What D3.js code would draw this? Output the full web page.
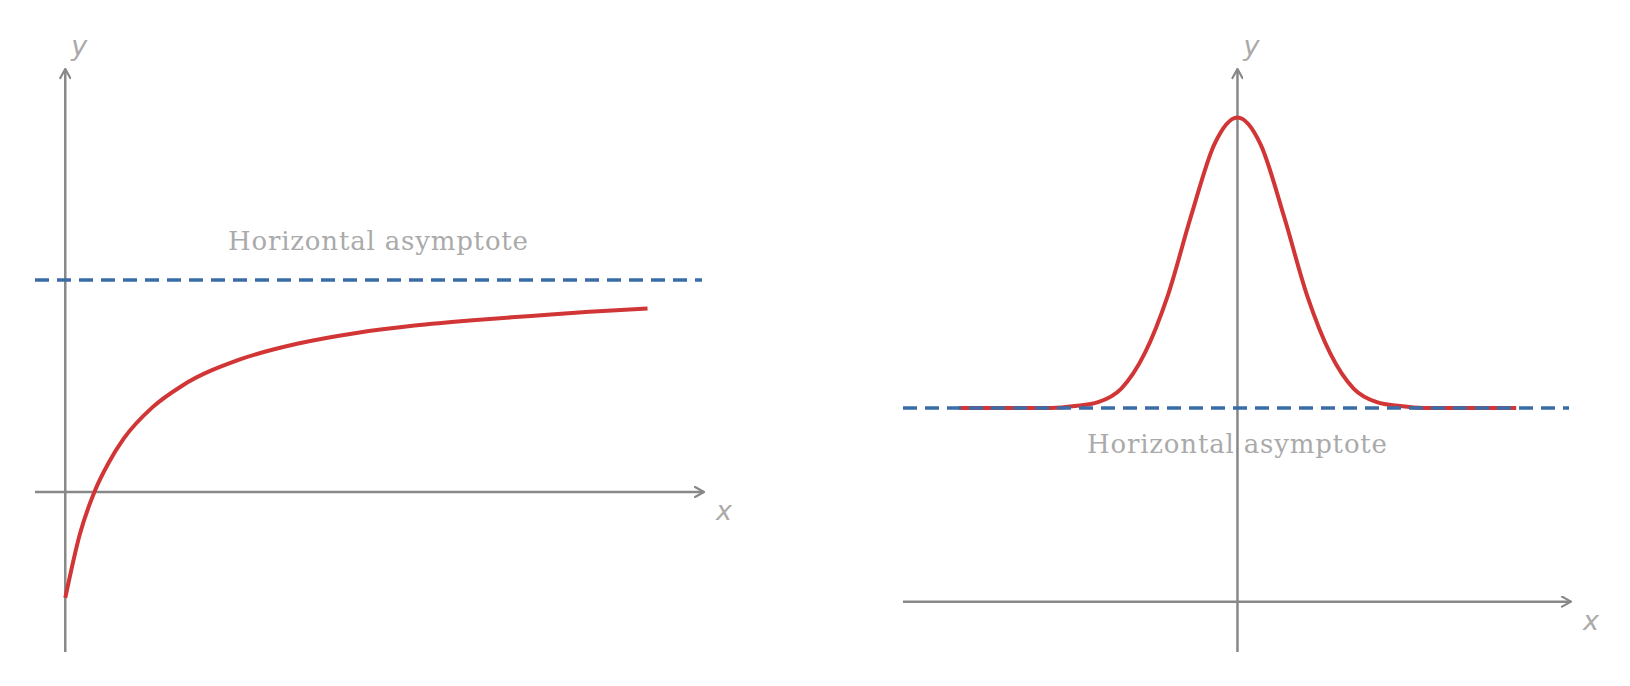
<!DOCTYPE html>
<html><head><meta charset="utf-8">
<script src="https://cdn.jsdelivr.net/npm/d3@7"></script>
<style>body{margin:0;background:#fff}</style>
</head><body>
<svg id="chart" width="1630" height="686"></svg>
<script>
// left: curve approaching y = 2 from below
const leftX = [0, 0.25, 0.5, 0.75, 1, 1.5, 2, 3, 4, 5, 6, 7, 8, 9, 10];
const leftY = [-1.0, -0.4, 0.0, 0.28, 0.5, 0.8, 1.0, 1.25, 1.4, 1.5, 1.57, 1.62, 1.66, 1.7, 1.73];
const leftAsymptote = 2;
// right: bell curve approaching y = 1 on both sides
const rightX = [-3, -2.5, -2, -1.75, -1.5, -1.25, -1, -0.75, -0.5, -0.25, 0, 0.25, 0.5, 0.75, 1, 1.25, 1.5, 1.75, 2, 2.5, 3];
const rightY = [1, 1, 1, 1.01, 1.03, 1.1, 1.28, 1.58, 1.99, 2.36, 2.5, 2.36, 1.99, 1.58, 1.28, 1.1, 1.03, 1.01, 1, 1, 1];
const rightAsymptote = 1;
const labelText = 'Horizontal asymptote';

const svg = d3.select('#chart');
const axisColor = '#888', textColor = '#aaa';

svg.append('defs').append('marker')
  .attr('id', 'arr').attr('viewBox', '0 0 12 12').attr('refX', 11).attr('refY', 6)
  .attr('markerWidth', 12).attr('markerHeight', 12).attr('markerUnits', 'userSpaceOnUse')
  .attr('orient', 'auto')
  .append('path').attr('d', 'M2,1 L11,6 L2,11').attr('fill', 'none')
  .attr('stroke', axisColor).attr('stroke-width', 2.2).attr('stroke-linecap', 'round');

function panel(xs, ys, asym, xDom, yDom, xRange, yRange, labelY) {
  const x = d3.scaleLinear().domain(xDom).range(xRange);
  const y = d3.scaleLinear().domain(yDom).range(yRange);
  const g = svg.append('g');
  // axes
  g.append('line').attr('x1', x(xDom[0])).attr('x2', x(xDom[1]))
    .attr('y1', y(0)).attr('y2', y(0))
    .attr('stroke', axisColor).attr('stroke-width', 2.5).attr('marker-end', 'url(#arr)');
  g.append('line').attr('x1', x(0)).attr('x2', x(0))
    .attr('y1', y(yDom[0])).attr('y2', y(yDom[1]))
    .attr('stroke', axisColor).attr('stroke-width', 2.5).attr('marker-end', 'url(#arr)');
  // curve
  g.append('path').datum(d3.zip(xs, ys))
    .attr('d', d3.line().x(d => x(d[0])).y(d => y(d[1])).curve(d3.curveMonotoneX))
    .attr('fill', 'none').attr('stroke', '#d13535').attr('stroke-width', 4);
  // asymptote
  g.append('line').attr('x1', x(xDom[0])).attr('x2', x(xDom[1]) - 2)
    .attr('y1', y(asym)).attr('y2', y(asym))
    .attr('stroke', '#3a6ea8').attr('stroke-width', 3.5).attr('stroke-dasharray', '14,8');
  g.append('text').attr('x', labelY[0]).attr('y', labelY[1])
    .attr('text-anchor', 'middle').attr('fill', textColor)
    .style('font-family', 'DejaVu Serif').style('font-size', '26px')
    .attr('textLength', 300).text(labelText);
  g.append('text').attr('x', x(xDom[1]) + 12).attr('y', y(0) + 28)
    .attr('fill', textColor).style('font-family', 'DejaVu Sans').style('font-style', 'italic')
    .style('font-size', '27px').text('x');
  g.append('text').attr('x', x(0) + 6).attr('y', 55)
    .attr('fill', textColor).style('font-family', 'DejaVu Sans').style('font-style', 'italic')
    .style('font-size', '27px').text('y');
}

panel(leftX, leftY, leftAsymptote, [-0.52, 10.97], [-1.51, 3.99], [35, 704], [652, 69], [378, 250]);
panel(rightX, rightY, rightAsymptote, [-3.60, 3.59], [-0.26, 2.75], [903, 1571], [652, 69], [1237, 453]);
</script>
</body></html>
